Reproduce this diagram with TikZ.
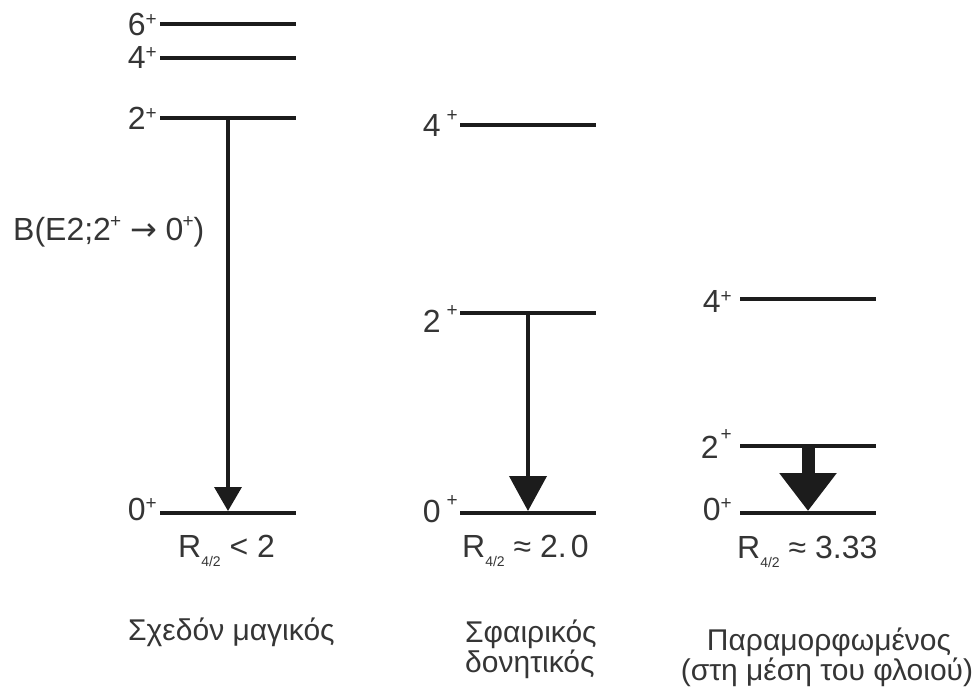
\documentclass[tikz,border=0pt]{standalone}
\usepackage{fontspec}
\setmainfont{Liberation Sans}
\newfontfamily\symfont{DejaVu Sans}
\usetikzlibrary{arrows.meta}
\definecolor{ink}{HTML}{1C1C1C}
\definecolor{txt}{HTML}{353535}
% spin label: value with a raised plus sign
\newcommand\spin[2]{#1\raisebox{#2}{\fontsize{19}{19}\selectfont +}}
\newcommand\plussup{\raisebox{0.4em}{\fontsize{19}{19}\selectfont +}}
% energy ratio symbol R_{4/2}
\newcommand\ratio{R\raisebox{-0.3em}{\fontsize{14}{14}\selectfont 4/2}}
\begin{document}
\begin{tikzpicture}[x=1pt,y=-1pt,
  levelbar/.style={rectangle, fill=ink, minimum width=136pt, minimum height=4pt, inner sep=0pt, outer sep=0pt},
  spinlbl/.style={anchor=base east, inner sep=0pt, text=txt, font=\fontsize{32}{38}\selectfont},
  txtlbl/.style={anchor=base west, inner sep=0pt, text=txt, font=\fontsize{32}{38}\selectfont},
  caption/.style={inner sep=0pt, text=txt, font=\fontsize{30}{36}\selectfont}]
\useasboundingbox (0,0) rectangle (975,690);

% --- near-magic nucleus
\node[levelbar] (a6) at (228,24) {};
\node[levelbar] (a4) at (228,58) {};
\node[levelbar] (a2) at (228,118) {};
\node[levelbar] (a0) at (228,513) {};
\node[spinlbl] (la6) at (157,36) {\spin{6}{0.33em}};
\node[spinlbl] (la4) at (157,69) {\spin{4}{0.33em}};
\node[spinlbl] (la2) at (157,130) {\spin{2}{0.33em}};
\node[spinlbl] (la0) at (157,520) {\spin{0}{0.33em}};
\draw[ink, line width=3.5pt, -{Triangle[width=27pt,length=24pt]}] (a2) -- (a0);
\node[txtlbl] (be2) at (13,240) {B(E2;2\kern-1pt\plussup\ {\symfont →} 0\kern-1pt\plussup)};
\node[txtlbl] (ra) at (178,557) {\ratio\ < 2};
\node[caption, anchor=base west] (ca) at (128,640) {Σχεδόν μαγικός};

% --- spherical vibrator
\node[levelbar] (b4) at (528,125) {};
\node[levelbar] (b2) at (528,313) {};
\node[levelbar] (b0) at (528,513) {};
\node[spinlbl] (lb4) at (458,137) {4\hspace{6pt}\raisebox{0.48em}{\fontsize{19}{19}\selectfont +}};
\node[spinlbl] (lb2) at (458,332) {2\hspace{6pt}\raisebox{0.48em}{\fontsize{19}{19}\selectfont +}};
\node[spinlbl] (lb0) at (458,522) {0\hspace{6pt}\raisebox{0.48em}{\fontsize{19}{19}\selectfont +}};
\draw[ink, line width=4pt, -{Triangle[width=37pt,length=35pt]}] (b2) -- (b0);
\node[txtlbl] (rb) at (462,557) {\ratio\ ≈ 2.\kern4pt0};
\node[caption, anchor=base west] (cb1) at (465,642) {Σφαιρικός};
\node[caption, anchor=base west] (cb2) at (465,672) {δονητικός};

% --- deformed nucleus (mid-shell)
\node[levelbar] (c4) at (808,299) {};
\node[levelbar] (c2) at (808,446) {};
\node[levelbar] (c0) at (808,513) {};
\node[spinlbl] (lc4) at (732,312) {\spin{4}{0.3em}};
\node[spinlbl] (lc2) at (732,458) {2\hspace{2pt}\raisebox{0.56em}{\fontsize{19}{19}\selectfont +}};
\node[spinlbl] (lc0) at (732,520) {\spin{0}{0.33em}};
\draw[ink, line width=13pt, -{Triangle[width=55pt,length=38pt]}] (c2) -- (c0);
\node[txtlbl] (rc) at (737,558) {\ratio\ ≈ 3.33};
\node[caption, anchor=base] (cc1) at (829,650) {Παραμορφωμένος};
\node[caption, anchor=base] (cc2) at (827,680) {(στη μέση του φλοιού)};
\end{tikzpicture}
\end{document}
